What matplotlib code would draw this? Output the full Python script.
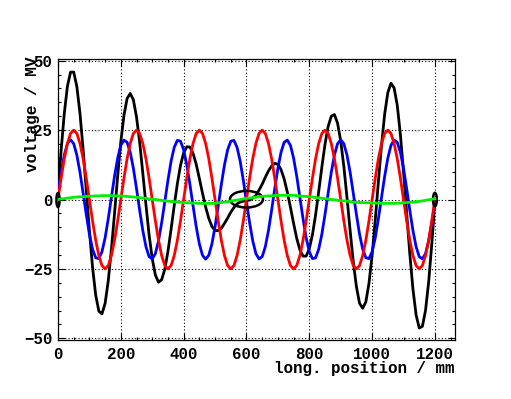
# Field voltages along the structure, two cavities and their sum
import numpy as np
import matplotlib.pyplot as plt
from matplotlib.patches import Ellipse
from matplotlib.ticker import MultipleLocator

# sample positions (mm)
pos = np.arange(0, 1201, 10)

# values (MV), one per 10 mm
red = [
    0, 7.7, 14.7, 20.2, 23.8, 25, 23.8, 20.2, 14.7, 7.7, 0, -7.7, -14.7, -20.2, -23.8, -25, -23.8, -20.2, -14.7, -7.7,
    0, 7.7, 14.7, 20.2, 23.8, 25, 23.8, 20.2, 14.7, 7.7, 0, -7.7, -14.7, -20.2, -23.8, -25, -23.8, -20.2, -14.7, -7.7,
    0, 7.7, 14.7, 20.2, 23.8, 25, 23.8, 20.2, 14.7, 7.7, 0, -7.7, -14.7, -20.2, -23.8, -25, -23.8, -20.2, -14.7, -7.7,
    0, 7.7, 14.7, 20.2, 23.8, 25, 23.8, 20.2, 14.7, 7.7, 0, -7.7, -14.7, -20.2, -23.8, -25, -23.8, -20.2, -14.7, -7.7,
    0, 7.7, 14.7, 20.2, 23.8, 25, 23.8, 20.2, 14.7, 7.7, 0, -7.7, -14.7, -20.2, -23.8, -25, -23.8, -20.2, -14.7, -7.7,
    0, 7.7, 14.7, 20.2, 23.8, 25, 23.8, 20.2, 14.7, 7.7, 0, -7.7, -14.7, -20.2, -23.8, -25, -23.8, -20.2, -14.7, -7.7,
    0]

blue = [
    2.3, 9.8, 16.0, 20.1, 21.5, 20.1, 16.0, 9.8, 2.3, -5.4, -12.5, -17.9, -21.0, -21.3, -18.8, -13.8, -6.9, 0.8, 8.4, 14.9,
    19.5, 21.4, 20.6, 17.0, 11.2, 3.9, -3.9, -11.2, -17.0, -20.6, -21.4, -19.5, -14.9, -8.4, -0.8, 6.9, 13.8, 18.8, 21.3, 21.0,
    17.9, 12.5, 5.4, -2.3, -9.8, -16.0, -20.1, -21.5, -20.1, -16.0, -9.8, -2.3, 5.4, 12.5, 17.9, 21.0, 21.3, 18.8, 13.8, 6.9,
    -0.8, -8.4, -14.9, -19.5, -21.4, -20.6, -17.0, -11.2, -3.9, 3.9, 11.2, 17.0, 20.6, 21.4, 19.5, 14.9, 8.4, 0.8, -6.9, -13.8,
    -18.8, -21.3, -21.0, -17.9, -12.5, -5.4, 2.3, 9.8, 16.0, 20.1, 21.5, 20.1, 16.0, 9.8, 2.3, -5.4, -12.5, -17.9, -21.0, -21.3,
    -18.8, -13.8, -6.9, 0.8, 8.4, 14.9, 19.5, 21.4, 20.6, 17.0, 11.2, 3.9, -3.9, -11.2, -17.0, -20.6, -21.4, -19.5, -14.9, -8.4,
    -0.8]

green = [
    0, 0.2, 0.3, 0.5, 0.6, 0.8, 0.9, 1.0, 1.0, 1.1, 1.2, 1.2, 1.3, 1.3, 1.4, 1.4, 1.4, 1.4, 1.3, 1.3,
    1.3, 1.2, 1.1, 1.0, 0.9, 0.8, 0.7, 0.5, 0.4, 0.2, 0.1, 0.0, -0.2, -0.3, -0.5, -0.6, -0.7, -0.8, -0.9, -1.0,
    -1.1, -1.2, -1.2, -1.3, -1.3, -1.4, -1.4, -1.4, -1.4, -1.4, -1.4, -1.2, -1.1, -0.9, -0.8, -0.6, -0.4, -0.2, 0.0, 0.2,
    0.4, 0.5, 0.7, 0.8, 1.0, 1.1, 1.2, 1.3, 1.3, 1.4, 1.5, 1.5, 1.5, 1.5, 1.5, 1.5, 1.4, 1.3, 1.2, 1.1,
    1.0, 0.9, 0.7, 0.6, 0.4, 0.3, 0.2, 0.0, -0.1, -0.3, -0.4, -0.5, -0.6, -0.8, -0.9, -1.0, -1.1, -1.1, -1.2, -1.2,
    -1.3, -1.3, -1.3, -1.4, -1.4, -1.4, -1.4, -1.4, -1.3, -1.3, -1.2, -1.1, -1.0, -0.9, -0.8, -0.7, -0.5, -0.3, -0.1, 0.1,
    0.3]

black = [
    2.3, 17.7, 31.0, 40.8, 45.9, 45.9, 40.7, 31.0, 18.0, 3.4, -11.3, -24.4, -34.4, -40.2, -41.2, -37.4, -29.3, -18.0, -5.0, 8.5,
    20.8, 30.3, 36.4, 38.2, 35.9, 29.7, 20.6, 9.5, -1.9, -12.7, -21.3, -27.2, -29.8, -28.9, -25.1, -18.7, -10.7, -2.2, 5.7, 12.3,
    16.8, 19.0, 18.9, 16.6, 12.7, 7.6, 2.3, -2.7, -6.8, -9.7, -11.2, -11.2, -10.4, -8.6, -6.7, -4.6, -2.9, -1.6, -0.9, -0.6,
    -0.4, -0.2, 0.5, 1.5, 3.4, 5.5, 8.0, 10.3, 12.1, 13.0, 12.7, 10.8, 7.4, 2.7, -2.8, -8.6, -14.0, -18.1, -20.4, -20.4,
    -17.8, -12.7, -5.6, 2.9, 11.7, 19.9, 26.3, 30.0, 30.6, 27.5, 21.1, 11.9, 0.7, -11.2, -22.4, -31.4, -37.4, -39.2, -36.9, -30.2,
    -20.1, -7.4, 6.5, 19.6, 30.8, 38.5, 41.9, 40.2, 34.0, 23.4, 10.0, -4.9, -19.6, -32.3, -41.6, -46.3, -45.7, -40.0, -29.7, -16.0,
    -0.5]

# ellipses marking the zero-crossing regions: (x, y, width, height)
marks = [(600, 0.1, 105, 6.0), (1200, 0.0, 12, 4.8), (0, -0.2, 10, 5.0)]

plt.rcParams['font.family'] = ['Liberation Mono', 'DejaVu Sans Mono']
plt.rcParams['font.weight'] = 'bold'

fig = plt.figure(figsize=(5.11, 3.99), dpi=100)
ax = fig.add_axes([0.1135, 0.148, 0.777, 0.704])

lw = 2.0
ax.plot(pos, black, color='black', lw=lw, zorder=3)
ax.plot(pos, blue, color='#0000ff', lw=lw, zorder=4)
ax.plot(pos, red, color='#ff0000', lw=lw, zorder=5)
for x, y, w, h in marks:
    ax.add_patch(Ellipse((x, y), w, h, fill=False, edgecolor='black', lw=1.8,
                         zorder=6, clip_on=False))
ax.plot(pos, green, color='#00ee00', lw=lw, zorder=7)

ax.set_xlim(0, 1264)
ax.set_ylim(-50.6, 50.6)
ax.xaxis.set_major_locator(MultipleLocator(200))
ax.xaxis.set_minor_locator(MultipleLocator(50))
ax.yaxis.set_major_locator(MultipleLocator(25))
ax.yaxis.set_minor_locator(MultipleLocator(5))
ax.tick_params(which='both', direction='in', top=True, right=True, width=0.8,
               labelsize=11.3)
ax.tick_params(which='major', length=5)
ax.tick_params(which='minor', length=2.5)
ax.tick_params(axis='x', pad=5)
ax.tick_params(axis='y', pad=4)
ax.grid(True, which='major', color='black', linestyle=(0, (1, 2)), lw=0.8)
ax.set_axisbelow(True)
for s in ax.spines.values():
    s.set_linewidth(0.9)

# axis titles placed like the ROOT original (y title runs into the tick labels)
fig.text(454 / 511, 1 - 369 / 399, 'long. position / mm', ha='right', va='center',
         fontsize=11.4)
fig.text(32 / 511, 1 - 56 / 399, 'voltage / MV', rotation=90, ha='center', va='top',
         fontsize=11.6)

fig.savefig('out.png', dpi=100)
